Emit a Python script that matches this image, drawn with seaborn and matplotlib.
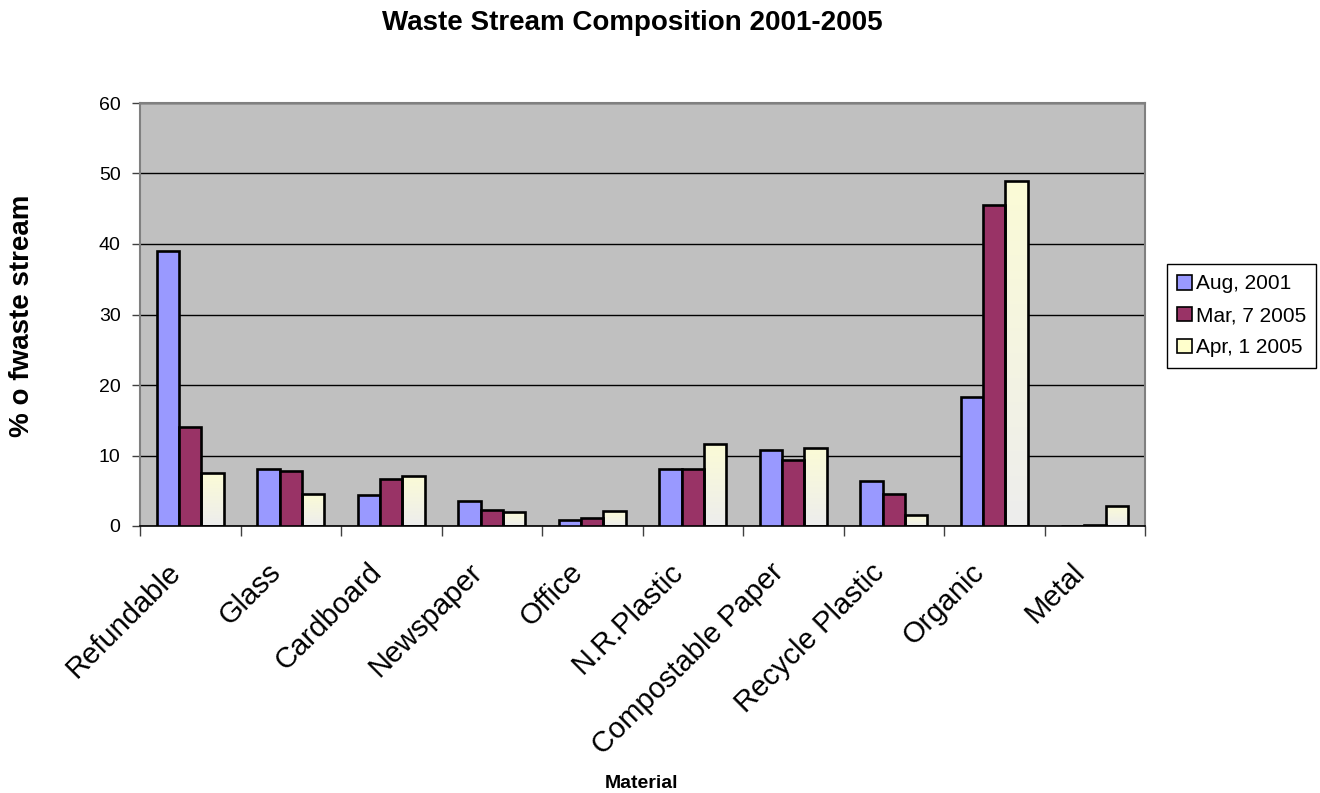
import numpy as np
import pandas as pd
import matplotlib
matplotlib.use("Agg")
import matplotlib.pyplot as plt
from matplotlib.patches import Patch
from matplotlib.colors import LinearSegmentedColormap
from matplotlib.transforms import ScaledTranslation
import seaborn as sns

# ---- data -------------------------------------------------------------
materials = ["Refundable", "Glass", "Cardboard", "Newspaper", "Office",
             "N.R.Plastic", "Compostable Paper", "Recycle Plastic",
             "Organic", "Metal"]
dates = ["Aug, 2001", "Mar, 7 2005", "Apr, 1 2005"]
aug_2001 = [39.0, 8.1, 4.4, 3.6, 0.8, 8.1, 10.8, 6.4, 18.3, 0.0]
mar_2005 = [14.0, 7.8, 6.7, 2.3, 1.1, 8.1, 9.4, 4.6, 45.5, 0.2]
apr_2005 = [7.5, 4.5, 7.1, 2.0, 2.1, 11.6, 11.0, 1.5, 49.0, 2.9]
y_ticks = [0, 10, 20, 30, 40, 50, 60]

colors = ["#9999FF", "#993366", "#FFFFCC"]

df = pd.DataFrame({
    "Material": materials * 3,
    "Date": [dates[0]] * 10 + [dates[1]] * 10 + [dates[2]] * 10,
    "Value": aug_2001 + mar_2005 + apr_2005,
})

# ---- figure -----------------------------------------------------------
sns.set_theme(style="white")
plt.rcParams["font.family"] = ["Liberation Sans", "DejaVu Sans"]
plt.rcParams["text.color"] = "black"
plt.rcParams["xtick.color"] = "black"
plt.rcParams["ytick.color"] = "black"

fig = plt.figure(figsize=(13.2, 7.93), dpi=100)
ax = fig.add_axes([140 / 1320, 1 - 526 / 793, 1005 / 1320, 423 / 793])
ax.set_facecolor("#C0C0C0")

sns.barplot(data=df, x="Material", y="Value", hue="Date", order=materials,
            hue_order=dates, palette=colors, width=0.667, saturation=1,
            edgecolor="black", linewidth=1.9, errorbar=None, legend=False,
            ax=ax, zorder=3)

# soft vertical gradient on the last series' bars
grad_cmap = LinearSegmentedColormap.from_list("apr", ["#EDEDED", "#FBFBD6"])
grad = np.linspace(0, 1, 256).reshape(-1, 1)
for patch in ax.containers[2]:
    x0, y0 = patch.get_x(), patch.get_y()
    w, h = patch.get_width(), patch.get_height()
    if h <= 0:
        continue
    patch.set_facecolor("none")
    im = ax.imshow(grad, cmap=grad_cmap, origin="lower", aspect="auto",
                   extent=[x0, x0 + w, y0, y0 + h], zorder=2.5,
                   interpolation="bilinear")
    im.set_clip_path(patch)

ax.set_xlim(-0.5, len(materials) - 0.5)
ax.set_ylim(0, 60)

# grid and frame
ax.set_axisbelow(True)
ax.yaxis.grid(True, color="black", linewidth=1.0)
ax.xaxis.grid(False)
for side in ["left", "top", "right"]:
    ax.spines[side].set_color("#808080")
    ax.spines[side].set_linewidth(1.5)
ax.spines["bottom"].set_color("black")
ax.spines["bottom"].set_linewidth(1.2)

# y axis
ax.set_yticks(y_ticks)
ax.set_yticklabels([str(v) for v in y_ticks], fontsize=14)
ax.tick_params(axis="y", direction="out", length=6, width=1, color="#404040",
               pad=8, left=True, labelcolor="black")

# x axis: labels at category centres, tick marks between categories
ax.set_xticks(range(len(materials)))
ax.set_xticklabels(materials, fontsize=21, rotation=45, ha="right",
                   va="center", rotation_mode="anchor")
ax.set_xticks(np.arange(-0.5, len(materials), 1.0), minor=True)
ax.tick_params(axis="x", which="major", length=0, pad=20, labelcolor="black")
ax.tick_params(axis="x", which="minor", direction="out", length=7, width=1,
               color="#404040", bottom=True)
shift = ScaledTranslation(-14 / 100, -14 / 100, fig.dpi_scale_trans)
for lbl in ax.get_xticklabels():
    lbl.set_transform(lbl.get_transform() + shift)
ax.set_xlabel("")
ax.set_ylabel("")

# titles
fig.text(632 / 1320, 1 - 23 / 793, "Waste Stream Composition 2001-2005",
         ha="center", va="center", fontsize=20, fontweight="bold")
fig.text(22 / 1320, 1 - 316 / 793, "% o fwaste stream", rotation=90,
         ha="center", va="center", fontsize=20, fontweight="bold")
fig.text(641 / 1320, 1 - 784 / 793, "Material", ha="center", va="center",
         fontsize=14, fontweight="bold")

# legend
handles = [Patch(facecolor=c, edgecolor="black", linewidth=1.2) for c in colors]
leg = fig.legend(handles, dates, loc="upper left",
                 bbox_to_anchor=(1167 / 1320, 1 - 264 / 793),
                 fontsize=15, frameon=True, fancybox=False, framealpha=1,
                 edgecolor="black", handlelength=0.72, handleheight=0.72,
                 handletextpad=0.15, labelspacing=0.62, borderpad=0.5,
                 borderaxespad=0)
leg.get_frame().set_linewidth(1.0)

fig.savefig("out.png", dpi=100, facecolor="white")
